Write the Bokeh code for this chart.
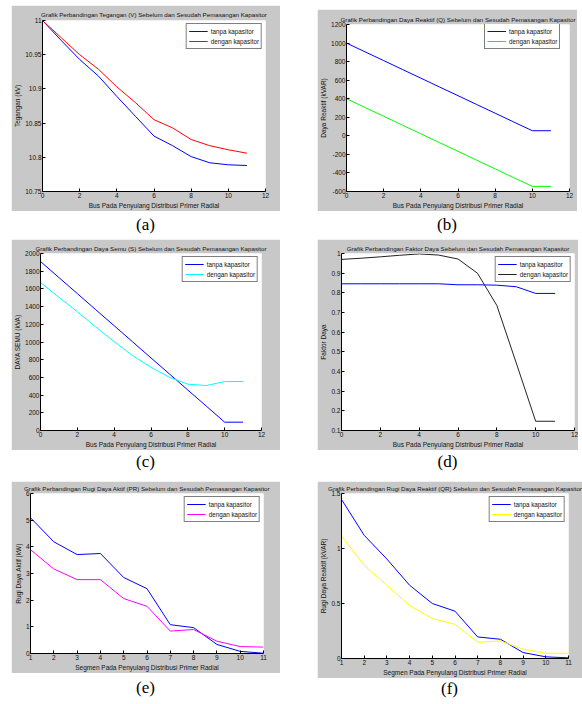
from bokeh.plotting import figure
from bokeh.layouts import column, row
from bokeh.models import Range1d, FixedTicker, Div
from bokeh.embed import file_html
from bokeh.resources import INLINE

# ---------------- data ----------------
bus = [0, 1, 2, 3, 4, 5, 6, 7, 8, 9, 10, 11]
seg = [1, 2, 3, 4, 5, 6, 7, 8, 9, 10, 11]

a_tanpa = [11.000, 10.971, 10.943, 10.919, 10.889, 10.860, 10.831, 10.817, 10.801, 10.792, 10.789, 10.788]
a_dengan = [11.000, 10.975, 10.950, 10.929, 10.903, 10.880, 10.855, 10.843, 10.826, 10.817, 10.811, 10.806]

b_tanpa = [1000, 905, 811, 716, 622, 527, 433, 338, 244, 149, 55, 55]
b_dengan = [400, 305, 211, 116, 22, -73, -167, -262, -356, -451, -545, -545]

c_tanpa = [1910, 1728, 1547, 1365, 1184, 1002, 820, 639, 457, 276, 94, 94]
c_dengan = [1673, 1505, 1342, 1170, 1004, 846, 714, 601, 523, 508, 553, 553]

d_tanpa = [0.846, 0.846, 0.846, 0.846, 0.846, 0.846, 0.841, 0.841, 0.839, 0.831, 0.797, 0.797]
d_dengan = [0.970, 0.976, 0.983, 0.991, 0.998, 0.992, 0.972, 0.900, 0.736, 0.443, 0.147, 0.147]

e_tanpa = [5.09, 4.19, 3.71, 3.75, 2.85, 2.43, 1.08, 0.97, 0.34, 0.08, 0.01]
e_dengan = [3.89, 3.17, 2.77, 2.77, 2.06, 1.77, 0.84, 0.90, 0.46, 0.26, 0.24]

f_tanpa = [1.446, 1.120, 0.904, 0.666, 0.500, 0.430, 0.196, 0.175, 0.054, 0.015, 0.006]
f_dengan = [1.114, 0.846, 0.665, 0.482, 0.364, 0.310, 0.148, 0.160, 0.084, 0.048, 0.048]

x_ticks_bus = [0, 2, 4, 6, 8, 10, 12]
x_ticks_seg = [1, 2, 3, 4, 5, 6, 7, 8, 9, 10, 11]

a_yticks = [10.75, 10.8, 10.85, 10.9, 10.95, 11]
a_ylabels = ["10.75", "10.8", "10.85", "10.9", "10.95", "11"]
b_yticks = [-600, -400, -200, 0, 200, 400, 600, 800, 1000, 1200]
b_ylabels = ["-600", "-400", "-200", "0", "200", "400", "600", "800", "1000", "1200"]
c_yticks = [0, 200, 400, 600, 800, 1000, 1200, 1400, 1600, 1800, 2000]
c_ylabels = ["0", "200", "400", "600", "800", "1000", "1200", "1400", "1600", "1800", "2000"]
d_yticks = [0.1, 0.2, 0.3, 0.4, 0.5, 0.6, 0.7, 0.8, 0.9, 1]
d_ylabels = ["0.1", "0.2", "0.3", "0.4", "0.5", "0.6", "0.7", "0.8", "0.9", "1"]
e_yticks = [0, 1, 2, 3, 4, 5, 6]
e_ylabels = ["0", "1", "2", "3", "4", "5", "6"]
f_yticks = [0, 0.5, 1, 1.5]
f_ylabels = ["0", "0.5", "1", "1.5"]

names = ["tanpa kapasitor", "dengan kapasitor"]

FONT = "Liberation Sans"
GRAY = "#c8c8c8"


def panel(title, xlabel, ylabel, x, s1, s2, c2, xr, yr, xticks, yticks, ylabels,
          w, h, borders, margin, title_standoff=3, legend_loc="top_right",
          legend_margin=3, title_size="6.2px"):
    top, right, bottom, left = borders
    p = figure(width=w, height=h, output_backend="svg", toolbar_location=None,
               x_range=Range1d(*xr), y_range=Range1d(*yr),
               min_border_top=top, min_border_right=right,
               min_border_bottom=bottom, min_border_left=left,
               margin=margin)
    p.background_fill_color = "white"
    p.border_fill_color = GRAY
    p.outline_line_color = None
    p.grid.visible = False
    p.title.text = title
    p.title.text_font = FONT
    p.title.text_font_size = title_size
    p.title.text_font_style = "normal"
    p.title.align = "center"
    p.title.text_color = "#111111"
    p.title.standoff = title_standoff
    for ax in (p.xaxis[0], p.yaxis[0]):
        ax.axis_line_color = "black"
        ax.major_tick_in = 3
        ax.major_tick_out = 0
        ax.major_tick_line_color = "black"
        ax.minor_tick_line_color = None
        ax.major_label_text_font = FONT
        ax.major_label_text_font_size = "6.5px"
        ax.major_label_text_color = "#111111"
        ax.major_label_standoff = 1
        ax.axis_label_text_font = FONT
        ax.axis_label_text_font_size = "6.5px"
        ax.axis_label_text_font_style = "normal"
        ax.axis_label_text_color = "#111111"
        ax.axis_label_standoff = 1
    p.xaxis.ticker = FixedTicker(ticks=xticks)
    p.yaxis.ticker = FixedTicker(ticks=yticks)
    p.yaxis.major_label_overrides = dict(zip(yticks, ylabels))
    p.xaxis.axis_label = xlabel
    p.yaxis.axis_label = ylabel
    p.line(x, s1, line_color="#0000ff", line_width=1, legend_label=names[0])
    p.line(x, s2, line_color=c2, line_width=1, legend_label=names[1])
    lg = p.legend[0]
    lg.location = legend_loc
    lg.margin = legend_margin
    lg.padding = 2
    lg.spacing = 0
    lg.glyph_width = 19
    lg.glyph_height = 10
    lg.label_height = 10
    lg.label_standoff = 3
    lg.label_text_font = FONT
    lg.label_text_font_size = "6.3px"
    lg.label_text_color = "#111111"
    lg.border_line_color = "black"
    lg.border_line_width = 1
    lg.background_fill_color = "white"
    lg.background_fill_alpha = 1.0
    return p


def label(txt, w, h, lh, left):
    html = ('<div style="width:%dpx;height:%dpx;line-height:%dpx;text-align:center;'
            'font-family:\'Liberation Serif\';font-size:17px;color:#000;">%s</div>' % (w, h, lh, txt))
    return Div(text=html, width=w, height=h, margin=(0, 0, 0, left))


xlab_bus = "Bus Pada Penyulang Distribusi Primer Radial"
xlab_seg = "Segmen Pada Penyulang Distribusi Primer Radial"

fa = panel("Grafik Perbandingan Tegangan (V) Sebelum dan Sesudah Pemasangan Kapasitor",
           xlab_bus, "Tegangan (kV)", bus, a_tanpa, a_dengan, "#ff0000",
           (0, 12), (10.75, 11), x_ticks_bus, a_yticks, a_ylabels,
           269, 206, (15, 15, 20, 28), (5, 0, 0, 11), title_standoff=5)
fb = panel("Grafik Perbandingan Daya Reaktif (Q) Sebelum dan Sesudah Pemasangan Kapasitor",
           xlab_bus, "Daya Reaktif (kVAR)", bus, b_tanpa, b_dengan, "#00ff00",
           (0, 12), (-600, 1200), x_ticks_bus, b_yticks, b_ylabels,
           260, 202, (14, 8, 20, 27), (9, 0, 0, 37), title_standoff=4,
           legend_loc=(138, 142))
fc = panel("Grafik Perbandingan Daya Semu (S) Sebelum dan Sesudah Pemasangan Kapasitor",
           xlab_bus, "DAYA SEMU (kVA)", bus, c_tanpa, c_dengan, "#00ffff",
           (0, 12), (0, 2000), x_ticks_bus, c_yticks, c_ylabels,
           269, 211, (14, 19, 20, 28), (0, 0, 0, 11), title_standoff=4)
fd = panel("Grafik Perbandingan Faktor Daya Sebelum dan Sesudah Pemasangan Kapasitor",
           xlab_bus, "Faktor Daya", bus, d_tanpa, d_dengan, "#222222",
           (0, 12), (0.1, 1), x_ticks_bus, d_yticks, d_ylabels,
           261, 211, (13, 4, 20, 22), (0, 0, 0, 37), title_standoff=3)
fe = panel("Grafik Perbandingan Rugi Daya Aktif (PR) Sebelum dan Sesudah Pemasangan Kapasitor",
           xlab_seg, "Rugi Daya Aktif (kW)", seg, e_tanpa, e_dengan, "#ff00ff",
           (1, 11), (0, 6), x_ticks_seg, e_yticks, e_ylabels,
           269, 192, (11, 17, 14, 19), (0, 0, 0, 11), title_standoff=3)
ff = panel("Grafik Perbandingan Rugi Daya Reaktif (QR) Sebelum dan Sesudah Pemasangan Kapasitor",
           xlab_seg, "Rugi Daya Reaktif (kVAR)", seg, f_tanpa, f_dengan, "#ffff00",
           (1, 11), (0, 1.5), x_ticks_seg, f_yticks, f_ylabels,
           265, 197, (12, 14, 19, 22), (0, 0, 0, 37), title_standoff=3)

layout = column(
    row(fa, fb),
    row(label("(a)", 269, 28, 28, 11), label("(b)", 260, 28, 28, 37)),
    row(fc, fd),
    row(label("(c)", 269, 31, 24, 11), label("(d)", 261, 31, 24, 37)),
    row(fe, ff),
    row(label("(e)", 269, 20, 20, 11), label("(f)", 265, 20, 22, 37)),
)

open("out.html", "w").write(file_html(layout, INLINE))
